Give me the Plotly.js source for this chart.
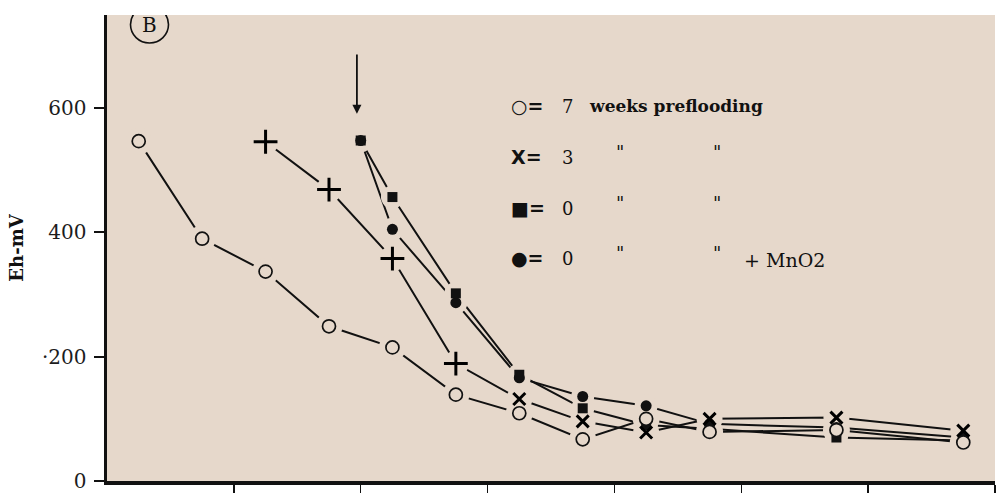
<!DOCTYPE html>
<html>
<head>
<meta charset="utf-8">
<script src="https://cdn.plot.ly/plotly-3.0.1.min.js"></script>
<style>html,body{margin:0;padding:0;background:#fff;}#chart{width:999px;height:493px;}</style>
</head>
<body>
<div id="chart"></div>
<script>
// ---- data ----
const x7 = [0.25, 0.75, 1.25, 1.75, 2.25, 2.75, 3.25, 3.75, 4.25, 4.75, 5.75, 6.75];
const y7 = [547, 390, 337, 249, 215, 139, 109, 67, 100, 79, 82, 62];

const x3 = [1.25, 1.75, 2.25, 2.75, 3.25, 3.75, 4.25, 4.75, 5.75, 6.75];
const y3 = [546, 469, 358, 189, 132, 96, 78, 100, 102, 81];

const x0 = [2.0, 2.25, 2.75, 3.25, 3.75, 4.25, 4.75, 5.75, 6.75];
const y0 = [548, 457, 302, 171, 117, 90, 84, 70, 65];

const xMn = [2.0, 2.25, 2.75, 3.25, 3.75, 4.25, 4.75, 5.75, 6.75];
const yMn = [548, 405, 287, 166, 136, 121, 92, 86, 70];

const yTickVals = [0, 200, 400, 600];
const yTickText = ['0', '·200', '400', '600'];
const xTickVals = [1, 2, 3, 4, 5, 6, 7];

const legendRows = [
  {sym: '○=', num: '7', rest: 'weeks preflooding', ditto: false, extra: ''},
  {sym: 'X=', num: '3', rest: '', ditto: true, extra: ''},
  {sym: '■=', num: '0', rest: '', ditto: true, extra: ''},
  {sym: '●=', num: '0', rest: '', ditto: true, extra: '+ MnO2'}
];

// ---- styles ----
const BG = '#e6d8cb';
const INK = '#111111';
const SERIF = 'DejaVu Serif, Liberation Serif, serif';

function lineTrace(x, y) {
  return {x: x, y: y, mode: 'lines', line: {color: INK, width: 2}, hoverinfo: 'skip', showlegend: false};
}
function haloTrace(x, y, size) {
  return {x: x, y: y, mode: 'markers', marker: {symbol: 'circle', size: size, color: BG, opacity: 1}, hoverinfo: 'skip', showlegend: false};
}

const sym3 = x3.map((v, i) => i < 4 ? 'cross-thin' : 'x-thin');
const size3 = x3.map((v, i) => i < 4 ? 17 : 12);

const traces = [
  lineTrace(x7, y7), lineTrace(x3, y3), lineTrace(x0, y0), lineTrace(xMn, yMn),
  haloTrace(x7, y7, 27), haloTrace(x3, y3, 26), haloTrace(x0, y0, 23), haloTrace(xMn, yMn, 23),
  {x: xMn, y: yMn, mode: 'markers', marker: {symbol: 'circle', size: 11, color: INK, opacity: 1}, hoverinfo: 'skip', showlegend: false},
  {x: x0, y: y0, mode: 'markers', marker: {symbol: 'square', size: 10, color: INK, opacity: 1}, hoverinfo: 'skip', showlegend: false},
  {x: x3, y: y3, mode: 'markers', marker: {symbol: sym3, size: size3, color: '#000', opacity: 1, line: {color: '#000', width: 3}}, hoverinfo: 'skip', showlegend: false},
  {x: x7, y: y7, mode: 'markers', marker: {symbol: 'circle', size: 13, color: BG, opacity: 1, line: {color: INK, width: 1.7}}, hoverinfo: 'skip', showlegend: false}
];

// px -> data helpers for text placement (plot area 107..995 x, 15..481 y)
const X0PX = 107, XW = 888, Y0PX = 481, YH = 466;
const px2x = p => (p - X0PX) / XW * 7;
const px2y = p => (Y0PX - p) / YH * 750;

const annotations = [];
const rowY = [106, 157, 208, 258];
legendRows.forEach((r, i) => {
  const y = px2y(rowY[i]);
  annotations.push({x: px2x(509), y: y, xref: 'x', yref: 'y', text: r.sym, showarrow: false, xanchor: 'left', yanchor: 'middle',
    font: {family: 'DejaVu Sans, sans-serif', size: 19, color: INK, weight: 'bold'}});
  annotations.push({x: px2x(567), y: y, xref: 'x', yref: 'y', text: r.num, showarrow: false, xanchor: 'center', yanchor: 'middle',
    font: {family: SERIF, size: 18, color: INK}});
  if (r.rest) annotations.push({x: px2x(587), y: y, xref: 'x', yref: 'y', text: r.rest, showarrow: false, xanchor: 'left', yanchor: 'middle',
    font: {family: SERIF, size: 17, color: INK, weight: 'bold'}});
  if (r.ditto) {
    annotations.push({x: px2x(620), y: y + 8, xref: 'x', yref: 'y', text: '"', showarrow: false, xanchor: 'center', yanchor: 'middle',
      font: {family: SERIF, size: 18, color: INK}});
    annotations.push({x: px2x(717), y: y + 8, xref: 'x', yref: 'y', text: '"', showarrow: false, xanchor: 'center', yanchor: 'middle',
      font: {family: SERIF, size: 18, color: INK}});
  }
  if (r.extra) annotations.push({x: px2x(742), y: y - 3, xref: 'x', yref: 'y', text: r.extra, showarrow: false, xanchor: 'left', yanchor: 'middle',
    font: {family: SERIF, size: 19, color: INK}});
});
// arrow marking start of flooding
annotations.push({x: 1.97, y: 591, ax: 1.97, ay: 689, xref: 'x', yref: 'y', axref: 'x', ayref: 'y', text: '', showarrow: true,
  arrowhead: 2, arrowsize: 1, arrowwidth: 1.8, arrowcolor: INK});
// panel label
annotations.push({x: px2x(149.5), y: px2y(25), xref: 'x', yref: 'y', text: 'B', showarrow: false, xanchor: 'center', yanchor: 'middle',
  font: {family: SERIF, size: 20, color: INK}});

const layout = {
  width: 999, height: 493,
  margin: {l: 107, r: 4, t: 15, b: 12},
  paper_bgcolor: '#ffffff',
  plot_bgcolor: BG,
  showlegend: false,
  xaxis: {range: [0, 7], showgrid: false, zeroline: false, showline: true, linewidth: 3.5, linecolor: INK,
    tickmode: 'array', tickvals: xTickVals, showticklabels: false, ticks: 'outside', ticklen: 9, tickwidth: 1.5, tickcolor: INK},
  yaxis: {range: [0, 750], showgrid: false, zeroline: false, showline: true, linewidth: 3.5, linecolor: INK,
    tickmode: 'array', tickvals: yTickVals, ticktext: yTickText, ticks: 'outside', ticklen: 10, tickwidth: 2, tickcolor: INK,
    ticklabelstandoff: 3,
    tickfont: {family: SERIF, size: 20, color: '#1c1c1c'},
    title: {text: 'Eh-mV', standoff: 14, font: {family: SERIF, size: 18, color: INK, weight: 'bold'}}},
  shapes: [
    {type: 'circle', xref: 'x', yref: 'y', x0: px2x(130.5), x1: px2x(168.5), y0: px2y(43), y1: px2y(6),
      line: {color: INK, width: 1.6}, fillcolor: 'rgba(0,0,0,0)'}
  ],
  annotations: annotations
};

Plotly.newPlot('chart', traces, layout, {displayModeBar: false, staticPlot: true});
</script>
</body>
</html>
